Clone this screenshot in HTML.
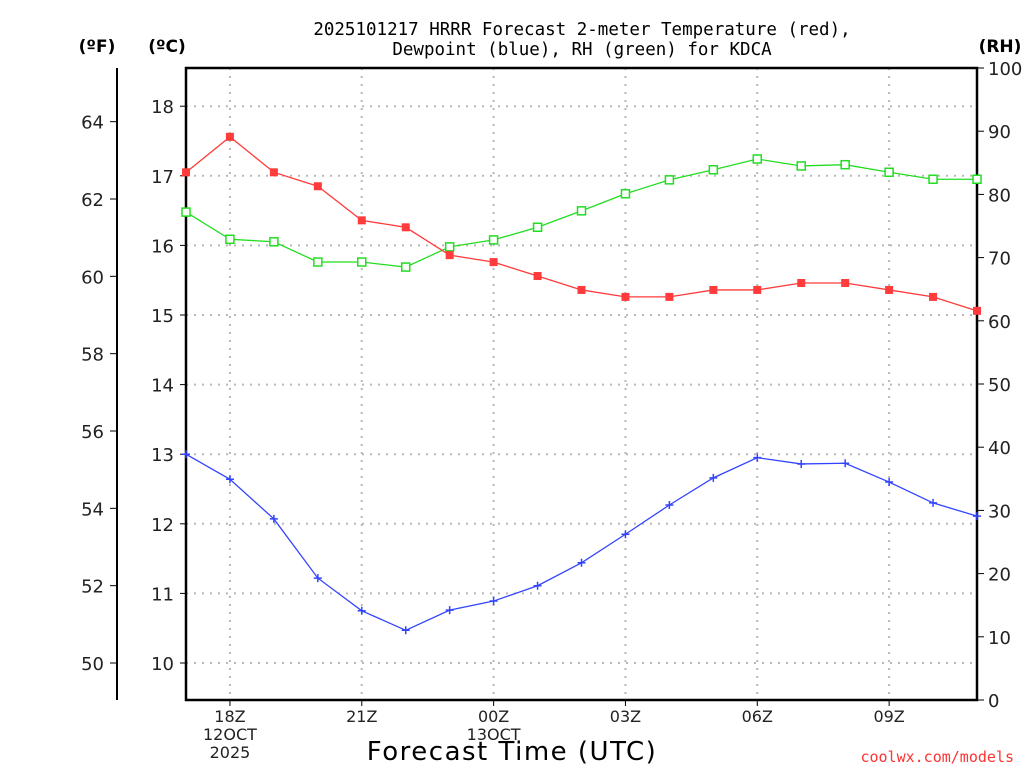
<!DOCTYPE html>
<html><head><meta charset="utf-8"><style>
body{margin:0;background:#fff;}
svg{display:block;font-family:"DejaVu Sans","Liberation Sans",sans-serif;}
</style></head><body>
<svg id="c" width="1024" height="768" viewBox="0 0 1024 768">
<text x="582" y="35" text-anchor="middle" font-size="17.5" font-family="DejaVu Sans Mono, Liberation Mono, monospace">2025101217 HRRR Forecast 2-meter Temperature (red),</text>
<text x="582" y="55" text-anchor="middle" font-size="17.5" font-family="DejaVu Sans Mono, Liberation Mono, monospace">Dewpoint (blue), RH (green) for KDCA</text>
<text x="97" y="52" text-anchor="middle" font-size="17" font-weight="bold">(ºF)</text>
<text x="167" y="52" text-anchor="middle" font-size="17" font-weight="bold">(ºC)</text>
<text x="1000" y="52" text-anchor="middle" font-size="17" font-weight="bold">(RH)</text>
<text x="512" y="760" text-anchor="middle" font-size="26" letter-spacing="1.5">Forecast Time (UTC)</text>
<text x="1014" y="762" text-anchor="end" font-size="15" fill="#ff3333" font-family="DejaVu Sans Mono, Liberation Mono, monospace">coolwx.com/models</text>
<g id="g"></g>
</svg>
<script>
const hours = [17,18,19,20,21,22,23,0,1,2,3,4,5,6,7,8,9,10,11];
const tempC = [17.05,17.56,17.05,16.85,16.36,16.26,15.86,15.76,15.56,15.36,15.26,15.26,15.36,15.36,15.46,15.46,15.36,15.26,15.06];
const dewC = [13.0,12.64,12.07,11.22,10.75,10.47,10.76,10.89,11.11,11.44,11.85,12.27,12.66,12.95,12.86,12.87,12.6,12.3,12.11];
const rh = [77.2,72.9,72.5,69.3,69.3,68.5,71.7,72.8,74.8,77.4,80.1,82.3,83.9,85.6,84.5,84.7,83.5,82.4,82.4];
const cTicks = [10,11,12,13,14,15,16,17,18];
const fTicks = [50,52,54,56,58,60,62,64];
const rhTicks = [0,10,20,30,40,50,60,70,80,90,100];
const xTickLabels = [["18Z","12OCT","2025"],["21Z"],["00Z","13OCT"],["03Z"],["06Z"],["09Z"]];
const xTickIdx = [1,4,7,10,13,16];

const NS="http://www.w3.org/2000/svg";
const g=document.getElementById('g');
const L=186,R=977,T=68,B=700;
const x=i=>L+i*(R-L)/(hours.length-1);
const yC=c=>663-(c-10)*69.6;
const yF=f=>yC((f-32)*5/9);
const yR=r=>B-r*(B-T)/100;
function el(t,a,p){const e=document.createElementNS(NS,t);for(const k in a)e.setAttribute(k,a[k]);(p||g).appendChild(e);return e;}

cTicks.forEach(c=>{
  const l=el('line',{x1:L,x2:R,y1:yC(c),y2:yC(c),stroke:'#b8b8b8','stroke-dasharray':'2,6','stroke-width':2});
  
  
  const tk=el('line',{x1:L-6,x2:L,y1:yC(c),y2:yC(c),stroke:'#000'});
  
  
  const t=el('text',{x:L-12,y:yC(c)+7,'text-anchor':'end','font-size':18,fill:'#222'});
  t.textContent=c;
  
  
});
xTickIdx.forEach((i,k)=>{
  const l=el('line',{x1:x(i),x2:x(i),y1:T,y2:B,stroke:'#b8b8b8','stroke-dasharray':'2,6','stroke-width':2});
  
  
  const tk=el('line',{x1:x(i),x2:x(i),y1:B,y2:B+6,stroke:'#000'});
  
  
  xTickLabels[k].forEach((s,j)=>{
    const t=el('text',{x:x(i),y:722+j*18,'text-anchor':'middle','font-size':16,fill:'#222'});
    t.textContent=s;
    
    
  });
});
const fa=el('line',{x1:117,x2:117,y1:T,y2:B,stroke:'#000','stroke-width':2});


fTicks.forEach(f=>{
  const tk=el('line',{x1:110,x2:117,y1:yF(f),y2:yF(f),stroke:'#000'});
  
  
  const t=el('text',{x:104,y:yF(f)+7,'text-anchor':'end','font-size':18,fill:'#222'});
  t.textContent=f;
  
  
});
rhTicks.forEach(r=>{
  const tk=el('line',{x1:R,x2:R+7,y1:yR(r),y2:yR(r),stroke:'#000'});
  
  
  const t=el('text',{x:R+11,y:yR(r)+7,'font-size':18,fill:'#222'});
  t.textContent=r;
  
  
});
const fr=el('rect',{x:L,y:T,width:R-L,height:B-T,fill:'none',stroke:'#000','stroke-width':2.5});



function series(vals,yf,color,name,marker){
  const p=el('polyline',{points:vals.map((v,i)=>x(i)+','+yf(v)).join(' '),fill:'none',stroke:color,'stroke-width':1.3});
  
  
  vals.forEach((v,i)=>{
    let m;
    if(marker==='fill') m=el('rect',{x:x(i)-4,y:yf(v)-4,width:8,height:8,fill:color});
    else if(marker==='open') m=el('rect',{x:x(i)-4,y:yf(v)-4,width:8,height:8,fill:'#fff',stroke:color,'stroke-width':1.5});
    else m=el('path',{d:`M${x(i)-4},${yf(v)}h8M${x(i)},${yf(v)-4}v8`,stroke:color,'stroke-width':1.5});
    
    
  });
}
series(rh,yR,'#22dd22','rh','open');
series(tempC,yC,'#ff3b3b','temperature','fill');
series(dewC,yC,'#3344ff','dewpoint','plus');
</script>
</body></html>
